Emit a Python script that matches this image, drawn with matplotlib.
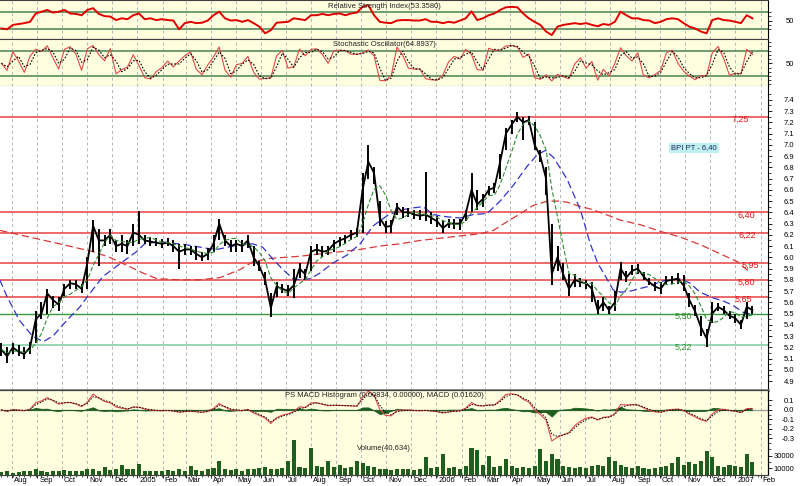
import numpy as np
import pandas as pd
import matplotlib
matplotlib.use("Agg")
import matplotlib.pyplot as plt
import matplotlib.dates as mdates
from matplotlib.ticker import FixedLocator, FormatStrFormatter, NullFormatter, FuncFormatter
from matplotlib.transforms import ScaledTranslation

plt.rcParams['font.family'] = ['Liberation Sans', 'DejaVu Sans']

# ---------------------------------------------------------
# Values (weekly samples, first week 2004-07-19)
# ---------------------------------------------------------
first_week = "2004-07-19"

close = [5.18, 5.12, 5.20, 5.16, 5.14, 5.20, 5.45, 5.50, 5.68, 5.62,
         5.58, 5.72, 5.77, 5.76, 5.72, 5.95, 6.28, 6.15, 6.15, 6.20,
         6.10, 6.12, 6.10, 6.22, 6.20, 6.15, 6.14, 6.13, 6.12, 6.13,
         6.10, 6.05, 6.07, 6.07, 6.03, 6.00, 6.03, 6.12, 6.30, 6.15,
         6.10, 6.12, 6.10, 6.15, 6.00, 5.92, 5.80, 5.55, 5.74, 5.72,
         5.70, 5.75, 5.90, 5.85, 6.05, 6.07, 6.05, 6.06, 6.12, 6.15,
         6.17, 6.20, 6.22, 6.60, 6.85, 6.75, 6.35, 6.27, 6.28, 6.45,
         6.40, 6.40, 6.38, 6.37, 6.38, 6.35, 6.32, 6.26, 6.30, 6.30,
         6.30, 6.39, 6.60, 6.47, 6.52, 6.60, 6.62, 6.85, 7.10, 7.18,
         7.25, 7.20, 7.22, 7.00, 6.90, 6.70, 5.85, 6.00, 5.85, 5.72,
         5.80, 5.78, 5.77, 5.72, 5.53, 5.60, 5.53, 5.60, 5.90, 5.82,
         5.88, 5.90, 5.83, 5.78, 5.74, 5.72, 5.79, 5.80, 5.81, 5.75,
         5.62, 5.52, 5.38, 5.28, 5.50, 5.56, 5.53, 5.48, 5.46, 5.40,
         5.56, 5.53]

high = [5.24, 5.20, 5.24, 5.22, 5.20, 5.25, 5.52, 5.60, 5.72, 5.66,
        5.65, 5.76, 5.80, 5.80, 5.76, 6.00, 6.33, 6.25, 6.20, 6.25,
        6.15, 6.20, 6.15, 6.30, 6.41, 6.20, 6.18, 6.17, 6.16, 6.17,
        6.15, 6.12, 6.12, 6.10, 6.10, 6.05, 6.08, 6.20, 6.34, 6.20,
        6.15, 6.15, 6.15, 6.20, 6.10, 5.97, 5.87, 5.68, 5.78, 5.76,
        5.75, 5.90, 5.95, 5.90, 6.10, 6.12, 6.10, 6.10, 6.15, 6.18,
        6.20, 6.24, 6.26, 6.75, 7.00, 6.80, 6.50, 6.32, 6.33, 6.48,
        6.45, 6.44, 6.42, 6.42, 6.76, 6.40, 6.37, 6.32, 6.34, 6.34,
        6.34, 6.42, 6.75, 6.60, 6.56, 6.63, 6.66, 6.92, 7.15, 7.22,
        7.29, 7.25, 7.26, 7.20, 6.95, 6.80, 6.30, 6.10, 5.95, 5.85,
        5.85, 5.82, 5.80, 5.78, 5.62, 5.65, 5.57, 5.70, 5.96, 5.88,
        5.93, 5.94, 5.87, 5.82, 5.78, 5.78, 5.83, 5.83, 5.86, 5.84,
        5.68, 5.58, 5.48, 5.36, 5.60, 5.59, 5.57, 5.52, 5.50, 5.44,
        5.60, 5.57]

low = [5.12, 5.06, 5.14, 5.12, 5.10, 5.14, 5.24, 5.45, 5.50, 5.55,
       5.52, 5.66, 5.72, 5.72, 5.68, 5.72, 6.05, 5.92, 6.10, 6.12,
       6.05, 6.05, 6.03, 6.10, 6.12, 6.12, 6.10, 6.10, 6.08, 6.10,
       6.05, 5.90, 6.02, 6.02, 5.98, 5.97, 5.98, 6.05, 6.15, 6.10,
       6.05, 6.05, 6.05, 6.08, 5.92, 5.88, 5.75, 5.47, 5.65, 5.68,
       5.66, 5.64, 5.82, 5.80, 5.88, 6.02, 6.00, 6.02, 6.05, 6.10,
       6.12, 6.15, 6.18, 6.22, 6.70, 6.65, 6.28, 6.22, 6.22, 6.38,
       6.35, 6.36, 6.34, 6.33, 6.32, 6.30, 6.27, 6.22, 6.26, 6.25,
       6.24, 6.32, 6.40, 6.42, 6.45, 6.55, 6.57, 6.70, 6.95, 7.10,
       7.20, 7.04, 7.18, 6.95, 6.85, 6.55, 5.75, 5.88, 5.80, 5.66,
       5.74, 5.74, 5.72, 5.60, 5.50, 5.52, 5.50, 5.52, 5.80, 5.78,
       5.84, 5.85, 5.80, 5.75, 5.70, 5.67, 5.76, 5.76, 5.76, 5.70,
       5.56, 5.48, 5.30, 5.20, 5.42, 5.52, 5.50, 5.45, 5.42, 5.36,
       5.45, 5.50]

volume = [4, 5, 3, 4, 5, 6, 8, 5, 4, 6,
          5, 7, 5, 6, 5, 9, 8, 6, 12, 7,
          8, 15, 9, 8, 17, 6, 5, 6, 5, 7,
          6, 8, 6, 13, 7, 6, 8, 10, 22, 9,
          7, 8, 6, 9, 8, 10, 12, 9, 8, 10,
          21, 55, 12, 10, 42, 14, 12, 21, 12, 15,
          10, 12, 21, 18, 14, 12, 9, 8, 7, 8,
          9, 8, 7, 9, 28, 10, 12, 32, 11, 12,
          9, 14, 42, 39, 15, 30, 12, 14, 25, 13,
          11, 12, 10, 14, 40, 22, 33, 25, 14, 12,
          10, 12, 11, 13, 15, 14, 27, 21, 15, 12,
          11, 13, 10, 9, 10, 12, 14, 18, 28, 15,
          20, 16, 22, 38, 28, 14, 12, 15, 13, 12,
          33, 20]  # thousands of shares

# RSI as drawn in the top panel (same weeks)
rsi = [32, 30, 40, 42, 44, 47, 66, 70, 74, 68,
       70, 74, 66, 65, 62, 74, 78, 65, 60, 59,
       51, 55, 53, 62, 66, 53, 55, 51, 53, 51,
       50, 30, 44, 47, 44, 45, 50, 62, 70, 55,
       50, 51, 47, 51, 44, 36, 21, 28, 45, 46,
       47, 55, 53, 51, 62, 62, 65, 62, 65, 66,
       62, 66, 68, 81, 85, 62, 47, 45, 44, 50,
       51, 51, 50, 50, 53, 47, 47, 44, 47, 45,
       50, 55, 71, 51, 55, 62, 66, 74, 80, 81,
       80, 66, 55, 47, 40, 25, 17, 36, 40, 42,
       44, 42, 44, 40, 37, 42, 40, 47, 70, 62,
       55, 55, 51, 50, 44, 47, 53, 55, 53, 44,
       36, 32, 25, 21, 51, 55, 51, 50, 47, 44,
       62, 55]

# medium (blue) and long (red) moving averages as drawn on the chart
ma_mid_dates = ["2004-07-17", "2004-07-26", "2004-08-10", "2004-08-26", "2004-09-08",
                "2004-09-20", "2004-10-07", "2004-10-23", "2004-10-31", "2004-11-20",
                "2004-12-14", "2004-12-31", "2005-01-10", "2005-01-29", "2005-03-03",
                "2005-03-27", "2005-04-08", "2005-04-28", "2005-05-22", "2005-06-03",
                "2005-06-16", "2005-06-28", "2005-07-10", "2005-07-19", "2005-07-31",
                "2005-08-12", "2005-08-28", "2005-09-14", "2005-09-30", "2005-10-16",
                "2005-11-02", "2005-11-18", "2005-12-04", "2005-12-16", "2005-12-28",
                "2006-01-14", "2006-01-30", "2006-02-15", "2006-03-04", "2006-03-20",
                "2006-04-05", "2006-04-22", "2006-05-04", "2006-05-14", "2006-05-24",
                "2006-06-10", "2006-06-26", "2006-07-08", "2006-07-17", "2006-07-29",
                "2006-08-05", "2006-08-14", "2006-08-26", "2006-09-16", "2006-10-05",
                "2006-10-26", "2006-11-07", "2006-11-19", "2006-12-05", "2006-12-18",
                "2006-12-30", "2007-01-11", "2007-01-23"]
ma_mid = [5.80, 5.65, 5.44, 5.30, 5.25, 5.30, 5.44, 5.56, 5.64, 5.83,
          5.96, 6.05, 6.12, 6.14, 6.11, 6.08, 6.07, 6.10, 6.12, 6.09,
          5.98, 5.89, 5.81, 5.80, 5.81, 5.86, 5.95, 6.02, 6.12, 6.28,
          6.37, 6.42, 6.44, 6.45, 6.38, 6.36, 6.35, 6.38, 6.39, 6.50,
          6.64, 6.81, 6.91, 6.95, 6.89, 6.69, 6.42, 6.12, 5.95, 5.80,
          5.71, 5.69, 5.70, 5.74, 5.79, 5.81, 5.77, 5.69, 5.64, 5.61,
          5.57, 5.51, 5.49]

ma_long_dates = ["2004-07-17", "2004-08-10", "2004-09-28", "2004-11-08", "2004-11-28",
                 "2004-12-19", "2005-01-08", "2005-01-25", "2005-02-22", "2005-03-18",
                 "2005-04-12", "2005-05-06", "2005-05-22", "2005-06-12", "2005-07-19",
                 "2005-08-12", "2005-09-06", "2005-09-30", "2005-10-24", "2005-11-18",
                 "2005-12-12", "2006-01-06", "2006-01-30", "2006-02-24", "2006-03-12",
                 "2006-03-29", "2006-04-14", "2006-04-29", "2006-05-17", "2006-05-29",
                 "2006-06-10", "2006-06-22", "2006-07-08", "2006-07-20", "2006-08-14",
                 "2006-09-07", "2006-10-02", "2006-10-26", "2006-11-20", "2006-12-05",
                 "2006-12-20", "2007-01-04", "2007-01-20"]
ma_long = [6.24, 6.20, 6.12, 6.05, 6.00, 5.93, 5.86, 5.81, 5.80, 5.80,
           5.82, 5.89, 5.96, 5.99, 6.01, 6.03, 6.05, 6.07, 6.10, 6.12,
           6.15, 6.17, 6.19, 6.21, 6.24, 6.32, 6.39, 6.46, 6.50, 6.50,
           6.49, 6.46, 6.43, 6.40, 6.33, 6.29, 6.23, 6.18, 6.11, 6.06,
           6.01, 5.96, 5.86]

red_levels = [7.25, 6.40, 6.22, 5.95, 5.80, 5.65]
green_levels = [5.50, 5.22]
price_ticks = [4.9, 5.0, 5.1, 5.2, 5.3, 5.4, 5.5, 5.6, 5.7, 5.8, 5.9, 6.0, 6.1,
               6.2, 6.3, 6.4, 6.5, 6.6, 6.7, 6.8, 6.9, 7.0, 7.1, 7.2, 7.3, 7.4]
target_text = "BPI PT - 6,40"

rsi_title = "Relative Strength Index(53.3580)"
sto_title = "Stochastic Oscillator(64.8937)"
macd_title = "PS MACD Histogram (0.00834, 0.00000), MACD (0.01620)"
vol_title = "Volume(40,634)"

# ---------------------------------------------------------
# Indicators
# ---------------------------------------------------------
dates = pd.date_range(first_week, periods=len(close), freq="7D")
c = pd.Series(close, index=dates)
h = pd.Series(high, index=dates)
l = pd.Series(low, index=dates)

ma_short = c.rolling(4, min_periods=1).mean()

hh = h.rolling(3, min_periods=1).max()
ll = l.rolling(3, min_periods=1).min()
stoch_k = 100 * (c - ll) / (hh - ll)
stoch_d = stoch_k.rolling(2, min_periods=1).mean()

ema_fast = c.ewm(span=2.4, adjust=False).mean()
ema_slow = c.ewm(span=5.2, adjust=False).mean()
macd = ema_fast - ema_slow
signal = macd.ewm(span=1.8, adjust=False).mean()
hist = macd - signal

# ---------------------------------------------------------
# Figure
# ---------------------------------------------------------
FIG_W, FIG_H = 800, 486
PLOT_W = 768
YELLOW = "#ffffe0"
GRID = dict(color="#b4b4b4", linestyle=(0, (3, 3)), linewidth=0.7)
FS = 5.5

fig = plt.figure(figsize=(FIG_W / 100, FIG_H / 100), dpi=100)


def panel(top, bottom, **kw):
    return fig.add_axes([0, 1 - bottom / FIG_H, PLOT_W / FIG_W, (bottom - top) / FIG_H], **kw)


BOT = 474.5
ax_rsi = panel(0, 39)
ax_sto = panel(39, 86, sharex=ax_rsi)
ax_main = panel(86, 389.5, sharex=ax_rsi)
ax_bot = panel(389.5, BOT, sharex=ax_rsi)
ax_vol = ax_bot.twinx()

x_left = pd.Timestamp("2004-07-17 08:00")
x_right = pd.Timestamp("2007-02-10")

for ax in (ax_rsi, ax_sto, ax_main, ax_bot, ax_vol):
    ax.set_xlim(x_left, x_right)
    ax.yaxis.tick_right()
    ax.tick_params(axis="y", which="major", direction="out", length=3, pad=16,
                   labelsize=FS, width=0.6)
    ax.tick_params(axis="y", which="minor", direction="out", length=2, width=0.5)
    ax.spines["left"].set_visible(False)
    ax.spines["right"].set_linewidth(0.8)
    ax.spines["top"].set_color("#404040")
    ax.spines["bottom"].set_color("#404040")

for ax in (ax_rsi, ax_sto, ax_bot):
    ax.set_facecolor(YELLOW)
ax_main.set_facecolor("white")
ax_vol.patch.set_visible(False)

for ax in (ax_rsi, ax_sto, ax_main, ax_bot):
    ax.xaxis.set_major_locator(mdates.MonthLocator())
    ax.grid(axis="x", which="major", **GRID)
    ax.set_axisbelow(True)
for ax in (ax_rsi, ax_sto, ax_main):
    ax.tick_params(axis="x", which="both", bottom=False, labelbottom=False)

# --- RSI ---
ax_rsi.set_ylim(8, 96.6)
for lv in (70, 30):
    ax_rsi.axhline(lv, color="#6f9c6f", linewidth=1.4, zorder=1)
ax_rsi.plot(dates, rsi, color="#e00000", linewidth=1.4, zorder=3)
ax_rsi.yaxis.set_major_locator(FixedLocator([50]))
ax_rsi.yaxis.set_minor_locator(FixedLocator([30, 40, 60, 70]))
ax_rsi.yaxis.set_minor_formatter(NullFormatter())
ax_rsi.spines["bottom"].set_color("black")
ax_rsi.text(0.5, 1 - 6.7 / 39, rsi_title, transform=ax_rsi.transAxes,
            ha="center", va="center", fontsize=FS, color="#202020", zorder=5)

# --- Stochastic ---
ax_sto.set_ylim(-3.7, 107.7)
for lv in (80, 20):
    ax_sto.axhline(lv, color="#6f9c6f", linewidth=1.4, zorder=1)
ax_sto.plot(dates, stoch_k, color="#e04848", linewidth=0.8, zorder=3)
ax_sto.plot(dates, stoch_d, color="black", linewidth=0.8, linestyle=(0, (1.5, 1.5)), zorder=3)
ax_sto.yaxis.set_major_locator(FixedLocator([50]))
ax_sto.yaxis.set_minor_locator(FixedLocator([0, 10, 20, 30, 40, 60, 70, 80, 90, 100]))
ax_sto.yaxis.set_minor_formatter(NullFormatter())
ax_sto.text(0.5, 1 - 6 / 47, sto_title, transform=ax_sto.transAxes,
            ha="center", va="center", fontsize=FS, color="#202020", zorder=5)

# --- Price ---
ax_main.set_ylim(4.825, 7.523)
for lv in red_levels:
    ax_main.axhline(lv, color="#e85050", linewidth=1.2, zorder=1)
ax_main.axhline(green_levels[0], color="#3a9a3a", linewidth=1.0, zorder=1)
ax_main.axhline(green_levels[1], color="#86d0a8", linewidth=1.2, zorder=1)

ax_main.plot(pd.to_datetime(ma_long_dates), ma_long, color="#d83838", linewidth=0.9,
             linestyle=(0, (6, 3)), zorder=2)
ax_main.plot(pd.to_datetime(ma_mid_dates), ma_mid, color="#3434c8", linewidth=0.9,
             linestyle=(0, (6, 3)), zorder=2)
ax_main.vlines(dates, l, h, color="black", linewidth=1.4, zorder=3)
ax_main.plot(dates, c, color="black", linewidth=1.3, zorder=3)
ax_main.plot(dates, ma_short, color="#2e8b2e", linewidth=0.8,
             linestyle=(0, (4, 2)), zorder=4)

level_px = 112.4  # pixels per price unit, used only to nudge labels under their line
red_label_x = [740, 746, 747, 750, 746, 743]
for lv, px in zip(red_levels, red_label_x):
    ax_main.text(px / PLOT_W, lv - 2.5 / level_px, f"{lv:.2f}".replace(".", ","),
                 transform=ax_main.get_yaxis_transform(), ha="center", va="center",
                 fontsize=6.5, color="#e01818", zorder=6)
for lv in green_levels:
    ax_main.text(683 / PLOT_W, lv - 2.5 / level_px, f"{lv:.2f}".replace(".", ","),
                 transform=ax_main.get_yaxis_transform(), ha="center", va="center",
                 fontsize=6.5, color="#2f8f2f", zorder=6)
ax_main.text(694 / PLOT_W, 1 - (148 - 86) / (389.5 - 86), target_text,
             transform=ax_main.transAxes, ha="center", va="center", fontsize=FS,
             color="#202060", zorder=6,
             bbox=dict(boxstyle="square,pad=0.25", facecolor="#bff0f0", edgecolor="none"))

ax_main.yaxis.set_major_locator(FixedLocator(price_ticks))
ax_main.yaxis.set_minor_locator(FixedLocator([t + 0.05 for t in price_ticks]))
ax_main.yaxis.set_minor_formatter(NullFormatter())
ax_main.yaxis.set_major_formatter(FormatStrFormatter("%.1f"))
ax_main.spines["bottom"].set_color("#8c8c8c")
ax_main.spines["bottom"].set_linewidth(2)
ax_main.spines["top"].set_visible(False)

# --- MACD + volume ---
bot_h = BOT - 389.5
ax_bot.set_ylim(-0.695 * bot_h / 86.5, 0.216)
ax_bot.axhline(0, color="#a0a0a0", linewidth=1.0, zorder=1)
ax_bot.fill_between(dates, 0, hist, color="#1f5e1f", linewidth=0.6, zorder=2)
ax_bot.plot(dates, macd, color="#e04848", linewidth=0.8, zorder=3)
ax_bot.plot(dates, signal, color="black", linewidth=0.7, linestyle=(0, (1.5, 1.5)), zorder=3)
ax_bot.yaxis.set_major_locator(FixedLocator([0.1, 0.0, -0.1, -0.2, -0.3]))
ax_bot.yaxis.set_minor_locator(FixedLocator([0.05, -0.05, -0.15, -0.25, -0.35]))
ax_bot.yaxis.set_major_formatter(FormatStrFormatter("%.1f"))
ax_bot.text(0.5, 1 - 6.2 / bot_h, macd_title, transform=ax_bot.transAxes,
            ha="center", va="center", fontsize=FS, color="#202020", zorder=5)
ax_bot.text(0.5, 1 - 59 / bot_h, vol_title, transform=ax_bot.transAxes,
            ha="center", va="center", fontsize=FS, color="#202020", zorder=5)

ax_vol.set_ylim(0, 1587 * bot_h)
ax_vol.bar(dates, np.array(volume) * 1000, width=5, color="#1f5e1f", linewidth=0, zorder=2)
ax_vol.yaxis.set_major_locator(FixedLocator([10000, 30000]))
ax_vol.yaxis.set_minor_locator(FixedLocator([20000, 40000]))
ax_vol.yaxis.set_major_formatter(FormatStrFormatter("%d"))
ax_vol.tick_params(axis="x", which="both", bottom=False, labelbottom=False)

ax_bot.xaxis.set_major_formatter(FuncFormatter(
    lambda v, pos: str(mdates.num2date(v).year) if mdates.num2date(v).month == 1
    else mdates.num2date(v).strftime("%b")))
ax_bot.xaxis.set_minor_locator(mdates.WeekdayLocator(byweekday=mdates.MO))
ax_bot.tick_params(axis="x", which="major", direction="out", length=2, pad=0,
                   labelsize=FS, width=0.6)
ax_bot.tick_params(axis="x", which="minor", direction="out", length=1.2, width=0.5)
for lab in ax_bot.get_xticklabels():
    lab.set_horizontalalignment("left")
    lab.set_transform(lab.get_transform() + ScaledTranslation(1.5 / 72, 0, fig.dpi_scale_trans))

for ax in (ax_rsi, ax_sto, ax_main, ax_bot, ax_vol):
    for lab in ax.get_yticklabels():
        lab.set_horizontalalignment("right")

fig.savefig("out.png", dpi=100, facecolor="white")
